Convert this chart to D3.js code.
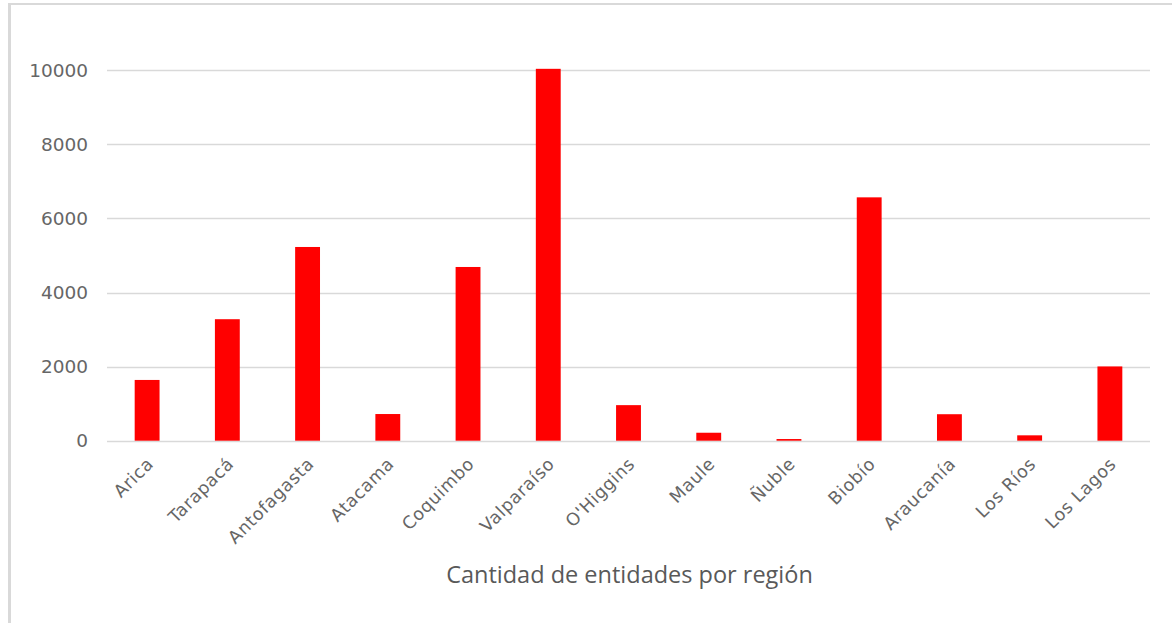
<!DOCTYPE html>
<html>
<head>
<meta charset="utf-8">
<script src="https://cdn.jsdelivr.net/npm/d3@7"></script>
<style>
  html, body { margin: 0; padding: 0; background: #fff; }
  svg { display: block; }
</style>
</head>
<body>
<div id="chart"></div>
<script>
const categories = ["Arica", "Tarapacá", "Antofagasta", "Atacama", "Coquimbo", "Valparaíso", "O'Higgins", "Maule", "Ñuble", "Biobío", "Araucanía", "Los Ríos", "Los Lagos"];
const values = [1640, 3280, 5230, 720, 4690, 10040, 960, 215, 45, 6570, 715, 145, 2005];
const yTicks = [0, 2000, 4000, 6000, 8000, 10000];
const xTitle = "Cantidad de entidades por región";

(function () {
const W = 1172, H = 623;
const svg = d3.select("#chart").append("svg").attr("width", W).attr("height", H);

// frame of chart area
svg.append("line").attr("x1", 9.5).attr("x2", 9.5).attr("y1", 3).attr("y2", H).attr("stroke", "#d9d9d9").attr("stroke-width", 3);
svg.append("line").attr("x1", 8).attr("x2", W).attr("y1", 4).attr("y2", 4).attr("stroke", "#d9d9d9").attr("stroke-width", 2);

const mLeft = 107, mRight = 1150, mTop = 70.3, mBottom = 440.7;

const x = d3.scaleBand().domain(categories).range([mLeft, mRight]).paddingInner(0.69).paddingOuter(0.345);
const y = d3.scaleLinear().domain([0, 10000]).range([mBottom, mTop]);

// gridlines
svg.append("g").selectAll("line").data(yTicks).join("line")
  .attr("x1", mLeft).attr("x2", mRight)
  .attr("y1", d => Math.round(y(d)) + 0.5).attr("y2", d => Math.round(y(d)) + 0.5)
  .attr("stroke", "#d9d9d9").attr("stroke-width", 1.3);

// y tick labels
svg.append("g").selectAll("text").data(yTicks).join("text")
  .attr("x", 88).attr("y", d => y(d)).attr("dy", "0.36em")
  .attr("text-anchor", "end")
  .attr("font-family", "DejaVu Sans, sans-serif").attr("font-size", 18.5)
  .attr("fill", "#666666")
  .text(d => d);

// bars
svg.append("g").selectAll("rect").data(categories).join("rect")
  .attr("x", d => x(d)).attr("width", x.bandwidth())
  .attr("y", (d, i) => y(values[i]))
  .attr("height", (d, i) => y(0) - y(values[i]))
  .attr("fill", "#ff0000");

// x labels rotated
svg.append("g").selectAll("text").data(categories).join("text")
  .attr("transform", d => `translate(${x(d) + x.bandwidth() / 2 + 3},${mBottom + 20}) rotate(-45)`)
  .attr("text-anchor", "end")
  .attr("dy", "0.35em")
  .attr("font-family", "DejaVu Sans, sans-serif").attr("font-size", 17.5)
  .attr("letter-spacing", 0.6)
  .attr("fill", "#666666")
  .text(d => d);

// axis title
svg.append("text")
  .attr("x", (mLeft + mRight) / 2 + 1).attr("y", 583)
  .attr("text-anchor", "middle")
  .attr("font-family", "Open Sans, sans-serif").attr("font-size", 23.5)
  .attr("fill", "#595959")
  .text(xTitle);
})();
</script>
</body>
</html>
